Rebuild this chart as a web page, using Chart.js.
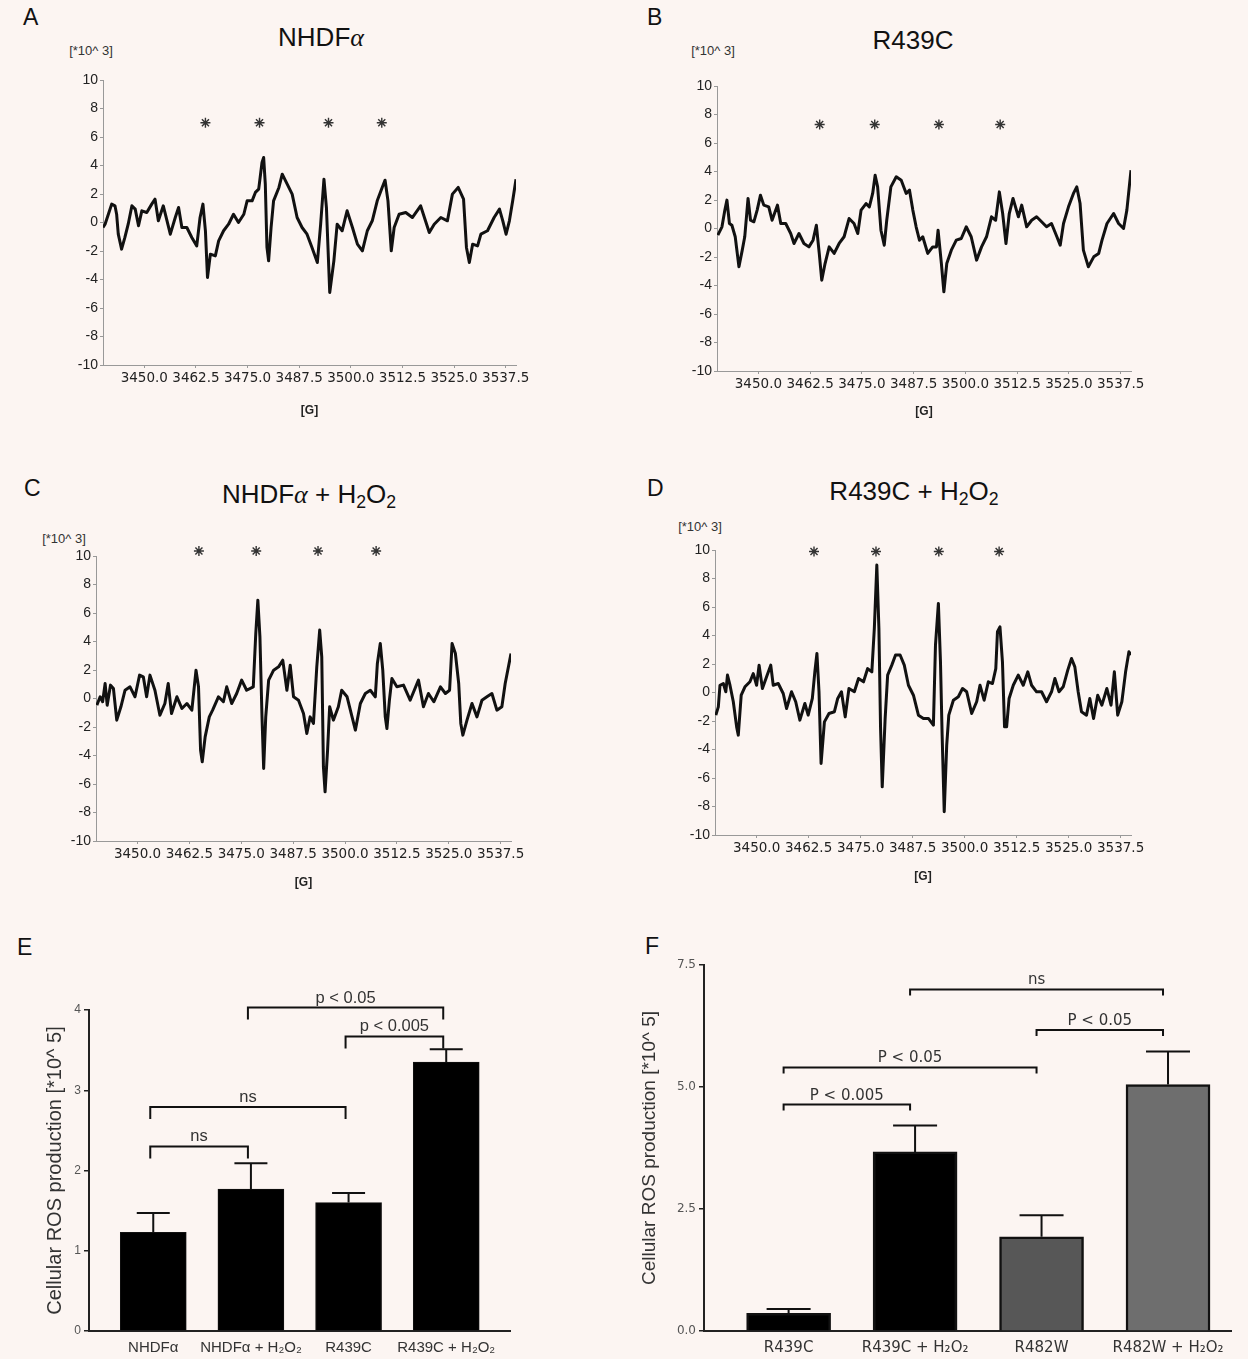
<!DOCTYPE html>
<html>
<head>
<meta charset="utf-8">
<script src="https://cdn.jsdelivr.net/npm/chart.js@4.4.0/dist/chart.umd.min.js"></script>
<style>
  html, body { margin: 0; padding: 0; }
  body { width: 1248px; height: 1359px; background: #fcf5f2; position: relative; overflow: hidden;
         font-family: "Liberation Sans", Arial, sans-serif; color: #111; }
  canvas { position: absolute; }
  .t { position: absolute; line-height: 1; white-space: nowrap; }
  .letter { font-size: 23px; }
  .title { font-size: 26px; transform: translateX(-50%); }
  .alpha { font-family: "Liberation Serif", serif; font-style: italic; }
  .unit { font-size: 13px; color: #333; transform: translateX(-50%); }
  sub { font-size: 0.68em; vertical-align: -0.3em; line-height: 0; }
</style>
</head>
<body>
<div class="t letter" style="left:23px;top:6px">A</div>
<div class="t letter" style="left:647px;top:6px">B</div>
<div class="t letter" style="left:24px;top:477px">C</div>
<div class="t letter" style="left:647px;top:477px">D</div>
<div class="t letter" style="left:17px;top:936px">E</div>
<div class="t letter" style="left:645px;top:935px">F</div>

<div class="t title" style="left:321px;top:24px">NHDF<span class="alpha">α</span></div>
<div class="t title" style="left:913px;top:27px">R439C</div>
<div class="t title" style="left:309px;top:481px">NHDF<span class="alpha">α</span> + H<sub>2</sub>O<sub>2</sub></div>
<div class="t title" style="left:914px;top:478px">R439C + H<sub>2</sub>O<sub>2</sub></div>

<div class="t unit" style="left:91px;top:44px">[*10^ 3]</div>
<div class="t unit" style="left:713px;top:44px">[*10^ 3]</div>
<div class="t unit" style="left:64px;top:532px">[*10^ 3]</div>
<div class="t unit" style="left:700px;top:520px">[*10^ 3]</div>

<canvas id="chartA" width="540" height="420" style="left:0px;top:0px"></canvas>
<canvas id="chartB" width="628" height="420" style="left:620px;top:0px"></canvas>
<canvas id="chartC" width="540" height="421" style="left:0px;top:470px"></canvas>
<canvas id="chartD" width="628" height="420" style="left:620px;top:470px"></canvas>
<canvas id="chartE" width="540" height="429" style="left:0px;top:930px"></canvas>
<canvas id="chartF" width="628" height="429" style="left:620px;top:930px"></canvas>

<script>
// EPR spectra, field in G, signal in units of 10^3
const fieldTicks = [3450.0, 3462.5, 3475.0, 3487.5, 3500.0, 3512.5, 3525.0, 3537.5];

const fieldA = [3440.0,3440.5,3441.3,3442.1,3442.9,3443.3,3443.7,3444.5,3445.3,3446.1,
  3447.0,3447.8,3448.6,3449.4,3450.6,3451.8,3452.6,3453.4,3454.6,3456.3,
  3457.5,3458.3,3459.1,3460.3,3461.5,3462.7,3463.5,3464.2,3464.8,3465.3,
  3466.0,3467.2,3468.0,3469.2,3470.4,3471.6,3472.8,3474.1,3474.9,3476.1,
  3476.9,3477.7,3478.5,3478.9,3479.3,3479.7,3480.1,3480.7,3481.3,3482.6,
  3483.4,3484.6,3485.8,3487.0,3488.2,3489.4,3490.6,3491.9,3492.7,3493.5,
  3494.1,3494.9,3495.9,3496.7,3497.9,3499.1,3500.4,3501.6,3502.8,3504.0,
  3505.2,3506.4,3507.6,3508.3,3509.0,3509.8,3510.5,3511.7,3513.3,3514.9,
  3516.9,3519.0,3520.2,3521.8,3523.4,3524.6,3526.0,3527.3,3528.0,3528.7,
  3529.5,3530.7,3531.5,3533.1,3534.7,3536.0,3536.8,3537.6,3538.4,3539.2,3540.0];
const signalA = [-0.35,-0.12,0.58,1.29,1.17,0.58,-0.82,-1.87,-1.05,-0.12,
  1.17,0.94,-0.23,0.82,0.70,1.29,1.64,0.12,1.17,-0.82,
  0.35,1.05,-0.35,-0.35,-1.05,-1.64,0.35,1.29,-0.58,-3.86,
  -2.22,-2.34,-1.29,-0.58,-0.12,0.58,0.0,0.58,1.52,1.52,
  2.11,2.34,4.21,4.56,2.69,-1.75,-2.69,-0.35,1.52,2.46,
  3.39,2.69,1.99,0.35,-0.35,-0.82,-1.75,-2.81,-0.12,3.04,
  1.05,-4.91,-2.69,-0.12,-0.58,0.82,-0.35,-1.52,-1.99,-0.58,
  0.12,1.52,2.46,2.97,1.52,-1.99,-0.35,0.58,0.70,0.35,
  1.17,-0.70,-0.12,0.35,0.12,1.99,2.46,1.64,-1.75,-2.81,
  -1.52,-1.64,-0.82,-0.58,0.35,0.94,0.12,-0.82,0.12,1.52,3.04];

const fieldB = [3440.2,3441.2,3441.9,3442.4,3443.0,3443.6,3444.4,3445.3,3446.1,3446.7,
  3447.5,3448.1,3448.9,3449.7,3450.5,3451.3,3452.5,3453.3,3454.6,3455.4,
  3456.6,3457.8,3458.6,3459.8,3461.0,3462.2,3463.2,3464.0,3464.7,3465.3,
  3466.1,3467.1,3468.3,3469.5,3470.7,3471.9,3473.1,3474.0,3474.8,3476.0,
  3476.8,3477.6,3478.2,3478.8,3479.6,3480.4,3481.0,3482.0,3483.3,3484.5,
  3485.7,3486.5,3487.3,3488.1,3488.9,3489.7,3490.9,3492.1,3493.0,3493.4,
  3494.2,3494.8,3495.5,3496.6,3497.8,3499.0,3500.2,3501.4,3502.7,3503.9,
  3505.1,3506.3,3507.3,3508.2,3509.0,3509.8,3510.6,3511.5,3512.8,3513.6,
  3514.8,3516.0,3517.2,3518.4,3519.6,3520.8,3522.1,3522.9,3523.7,3524.9,
  3526.1,3526.9,3527.7,3528.5,3529.7,3531.0,3532.2,3533.0,3534.2,3535.8,
  3537.0,3538.2,3539.0,3540.0];
const signalB = [-0.47,0.12,1.29,1.99,0.35,0.23,-0.58,-2.69,-1.52,-0.58,
  2.11,0.58,0.47,1.29,2.34,1.64,1.52,0.58,1.64,0.35,
  0.35,-0.35,-1.05,-0.35,-1.05,-1.29,-0.82,0.23,-1.75,-3.63,
  -2.46,-1.29,-1.75,-1.05,-0.58,0.70,0.35,-0.35,1.29,1.75,
  1.52,2.46,3.74,2.92,-0.12,-1.17,0.58,2.92,3.63,3.39,
  2.46,2.69,1.29,0.12,-0.82,-0.58,-1.75,-1.29,-1.29,-0.12,
  -2.46,-4.44,-2.46,-1.52,-0.82,-0.70,0.12,-0.58,-2.22,-1.29,
  -0.58,0.82,0.58,2.57,1.05,-1.05,1.05,2.11,0.82,1.64,
  0.12,0.58,0.82,0.47,0.12,0.35,-0.58,-1.17,0.35,1.52,
  2.46,2.92,1.75,-1.52,-2.69,-1.99,-1.75,-0.82,0.35,1.05,
  0.35,0.0,1.29,4.09];

const fieldC = [3440.2,3441.0,3441.6,3442.2,3442.7,3443.5,3444.2,3445.0,3446.0,3447.0,
  3448.2,3449.4,3450.5,3451.4,3452.2,3453.0,3454.2,3455.4,3456.6,3457.4,
  3458.2,3459.5,3460.7,3461.9,3463.1,3464.1,3464.7,3465.2,3465.6,3466.3,
  3467.3,3468.1,3469.5,3470.7,3471.5,3472.7,3473.9,3475.1,3476.3,3477.9,
  3478.5,3479.0,3479.5,3480.0,3480.4,3480.9,3481.6,3482.8,3484.0,3485.0,
  3486.0,3486.8,3487.6,3488.8,3490.0,3490.8,3491.6,3492.4,3493.2,3493.9,
  3494.4,3494.8,3495.2,3495.8,3496.3,3497.2,3498.4,3499.2,3500.5,3501.7,
  3502.5,3503.7,3504.9,3506.1,3507.3,3507.8,3508.5,3509.1,3509.7,3510.1,
  3510.7,3511.3,3512.5,3514.1,3515.7,3517.7,3518.9,3520.1,3521.4,3523.0,
  3524.2,3525.2,3525.8,3526.6,3527.4,3527.9,3528.4,3529.4,3530.6,3531.8,
  3533.0,3534.2,3535.4,3536.6,3537.8,3538.6,3540.0];
const signalC = [-0.47,0.12,-0.23,1.05,-0.47,0.94,0.70,-1.52,-0.58,0.58,
  0.82,0.12,1.64,1.52,0.12,1.64,0.58,-1.17,-0.35,1.05,
  -1.05,0.12,-0.70,-0.35,-0.82,1.99,0.82,-3.63,-4.44,-2.69,
  -1.29,-0.82,0.12,-0.23,0.82,-0.35,0.35,1.29,0.58,0.82,
  4.56,6.90,4.33,-1.29,-4.91,-1.29,1.29,1.99,2.22,2.69,
  0.58,2.34,0.12,-0.12,-1.05,-2.46,-1.29,-1.75,2.22,4.80,
  2.92,-4.80,-6.55,-3.63,-0.58,-1.52,-0.58,0.58,0.12,-1.29,
  -2.22,-0.35,0.35,0.58,0.12,2.46,3.86,1.99,-1.29,-2.11,
  -0.12,1.40,0.82,0.94,-0.12,1.29,-0.58,0.35,-0.23,0.82,
  0.35,0.58,3.86,3.16,1.05,-1.75,-2.57,-1.52,-0.35,-1.29,
  -0.12,0.12,0.35,-0.82,-0.58,1.05,3.16];

const fieldD = [3440.2,3440.8,3441.2,3442.0,3442.6,3443.0,3443.6,3444.4,3445.2,3445.6,
  3446.3,3447.2,3448.4,3449.2,3450.0,3450.6,3451.4,3452.4,3453.4,3454.0,
  3455.2,3456.4,3457.2,3458.4,3459.4,3460.4,3461.6,3462.4,3463.4,3464.0,
  3464.5,3465.0,3465.5,3466.3,3467.4,3468.7,3469.5,3470.4,3471.3,3472.2,
  3473.5,3474.5,3475.7,3476.7,3477.7,3478.3,3478.9,3479.4,3479.8,3480.2,
  3480.9,3481.5,3482.5,3483.4,3484.5,3485.5,3486.5,3487.7,3488.9,3490.1,
  3491.3,3492.5,3493.0,3493.7,3494.2,3494.6,3495.1,3495.7,3496.2,3497.3,
  3498.5,3499.5,3500.5,3501.7,3502.9,3503.7,3504.7,3505.7,3506.7,3507.5,
  3507.9,3508.5,3509.1,3509.6,3510.1,3510.7,3511.7,3512.9,3514.1,3515.2,
  3516.1,3517.3,3518.5,3519.7,3520.9,3521.7,3522.7,3523.7,3524.8,3525.7,
  3526.5,3527.3,3528.1,3529.3,3530.1,3531.0,3532.0,3533.0,3534.2,3535.2,
  3536.0,3536.8,3537.8,3538.7,3539.5,3540.0];
const signalD = [-1.59,-1.01,0.51,0.63,0.05,1.22,0.51,-0.65,-2.41,-2.99,
  -0.19,0.40,0.75,1.33,0.51,1.92,0.28,1.10,1.92,0.51,
  0.63,-0.07,-1.12,0.05,-0.65,-1.94,-0.77,-1.59,-0.42,1.45,
  2.74,0.05,-4.98,-2.06,-1.47,-1.35,-0.42,0.05,-1.71,0.28,
  0.05,0.98,0.75,1.68,1.45,4.49,8.94,4.49,-2.53,-6.62,
  -1.82,1.22,1.92,2.63,2.63,1.92,0.51,-0.19,-1.59,-1.82,
  -1.82,-2.29,3.33,6.25,2.15,-2.99,-8.37,-3.69,-1.59,-0.54,
  -0.30,0.28,0.05,-1.47,-0.65,0.51,-0.54,0.75,0.63,1.68,
  4.26,4.61,2.15,-2.41,-2.41,-0.42,0.51,1.22,0.51,1.45,
  0.51,0.05,0.05,-0.65,0.05,0.98,0.05,0.40,1.57,2.39,
  1.80,0.05,-1.35,-1.59,-0.42,-1.82,-0.19,-0.89,0.28,-0.89,
  1.45,-1.59,-0.65,1.45,2.86,2.63];

// asterisk marks over the four lines
const starFieldA = [3464.8, 3477.9, 3494.6, 3507.5], starLevelA = 7.0;
const starFieldB = [3464.8, 3478.1, 3493.6, 3508.4], starLevelB = 7.3;
const starFieldC = [3464.8, 3478.6, 3493.5, 3507.5], starLevelC = 10.35;
const starFieldD = [3463.8, 3478.7, 3493.8, 3508.3], starLevelD = 9.9;

// ROS bar charts (units 10^5)
const groupsE = ['NHDFα', 'NHDFα + H₂O₂', 'R439C', 'R439C + H₂O₂'];
const rosE = [1.23, 1.77, 1.60, 3.35];
const errE = [0.24, 0.32, 0.12, 0.16];
const bracketsE = [[0, 1, 2.30, 'ns'], [0, 2, 2.79, 'ns'], [2, 3, 3.67, 'p < 0.005'], [1, 3, 4.03, 'p < 0.05']];

const groupsF = ['R439C', 'R439C + H₂O₂', 'R482W', 'R482W + H₂O₂'];
const rosF = [0.36, 3.67, 1.93, 5.05];
const errF = [0.09, 0.54, 0.44, 0.68];
const bracketsF = [[0, 1, 4.64, 'P < 0.005'], [0, 2, 5.40, 'P < 0.05'], [2, 3, 6.17, 'P < 0.05'], [1, 3, 7.0, 'ns']];

const FONT = '"Liberation Sans", Arial, sans-serif';
const WIDE = '"DejaVu Sans", sans-serif';
Chart.defaults.font.family = FONT;

function spectrum(id, field, signal, starField, starLevel, g) {
  new Chart(document.getElementById(id), {
    type: 'scatter',
    data: {
      datasets: [
        { data: field.map((x, i) => ({ x: x, y: signal[i] })), showLine: true, borderColor: '#111',
          borderWidth: 3, pointRadius: 0, tension: 0, borderJoinStyle: 'round' },
        { data: starField.map(x => ({ x: x, y: starLevel })), pointStyle: 'star', pointRadius: 5,
          hoverRadius: 5, borderColor: '#333', borderWidth: 1.4, clip: false }
      ]
    },
    options: {
      responsive: false, animation: false, events: [],
      layout: { padding: { left: 0, top: g.top, right: g.right, bottom: g.bottom } },
      plugins: { legend: { display: false }, tooltip: { enabled: false } },
      scales: {
        x: {
          type: 'linear', min: 3440, max: 3540,
          afterBuildTicks: s => { s.ticks = fieldTicks.map(v => ({ value: v })); },
          afterFit: s => { s.height = g.xh; },
          ticks: { autoSkip: false, maxRotation: 0, font: { size: 13.5, family: WIDE }, color: '#222', padding: 2,
                   callback: v => Number(v).toFixed(1) },
          grid: { drawOnChartArea: false, tickLength: 3, color: '#999' },
          border: { color: '#999' },
          title: { display: true, text: '[G]', font: { size: 12, weight: 'bold' }, color: '#222', padding: 0 }
        },
        y: {
          min: -10, max: 10,
          afterFit: s => { s.width = g.yw; },
          ticks: { stepSize: 2, font: { size: 14 }, color: '#222', padding: 2 },
          grid: { drawOnChartArea: false, tickLength: 3, color: '#999' },
          border: { color: '#999' }
        }
      }
    }
  });
}

spectrum('chartA', fieldA, signalA, starFieldA, starLevelA, { yw: 103, top: 80, right: 24, xh: 53, bottom: 2 });
spectrum('chartB', fieldB, signalB, starFieldB, starLevelB, { yw: 97, top: 86, right: 117, xh: 48, bottom: 1 });
spectrum('chartC', fieldC, signalC, starFieldC, starLevelC, { yw: 96, top: 86, right: 29, xh: 49, bottom: 1 });
spectrum('chartD', fieldD, signalD, starFieldD, starLevelD, { yw: 95, top: 80, right: 117, xh: 49, bottom: 6 });

// error bars and significance brackets
const statsPlugin = {
  id: 'stats',
  afterDatasetsDraw(chart, args, o) {
    const ctx = chart.ctx, x = chart.scales.x, y = chart.scales.y;
    ctx.save();
    ctx.strokeStyle = '#111';
    ctx.lineWidth = 2;
    o.values.forEach((v, i) => {
      const cx = x.getPixelForValue(i), y0 = y.getPixelForValue(v), y1 = y.getPixelForValue(v + o.errors[i]);
      ctx.beginPath();
      ctx.moveTo(cx, y0); ctx.lineTo(cx, y1);
      ctx.moveTo(cx - o.cap / 2, y1); ctx.lineTo(cx + o.cap / 2, y1);
      ctx.stroke();
    });
    ctx.fillStyle = '#333';
    ctx.font = o.textSize + 'px ' + o.textFont;
    ctx.textAlign = 'center';
    ctx.textBaseline = 'alphabetic';
    o.brackets.forEach(b => {
      const xa = x.getPixelForValue(b[0]) - o.shift, xb = x.getPixelForValue(b[1]) - o.shift, yl = y.getPixelForValue(b[2]);
      ctx.beginPath();
      ctx.moveTo(xa, yl + o.leg); ctx.lineTo(xa, yl); ctx.lineTo(xb, yl); ctx.lineTo(xb, yl + o.leg);
      ctx.stroke();
      ctx.fillText(b[3], (xa + xb) / 2, yl - 5);
    });
    ctx.restore();
  }
};

function rosChart(id, groups, values, errors, brackets, colors, g) {
  new Chart(document.getElementById(id), {
    type: 'bar',
    data: {
      datasets: [{
        data: values.map((v, i) => ({ x: i, y: v })),
        backgroundColor: colors, borderColor: '#111', borderWidth: g.bw, barThickness: g.barW
      }]
    },
    options: {
      responsive: false, animation: false, events: [],
      layout: { padding: { left: 0, top: g.top, right: g.right, bottom: 0 } },
      plugins: {
        legend: { display: false }, tooltip: { enabled: false },
        stats: { values: values, errors: errors, brackets: brackets, cap: g.cap, leg: g.leg, shift: g.shift,
                 textSize: g.textSize, textFont: g.textFont }
      },
      scales: {
        x: {
          type: 'linear', min: g.xmin, max: g.xmax, offset: false,
          afterBuildTicks: s => { s.ticks = groups.map((n, i) => ({ value: i })); },
          afterFit: s => { s.height = g.xh; },
          ticks: { autoSkip: false, maxRotation: 0, font: { size: g.labelSize, family: g.labelFont }, color: '#333',
                   padding: 8, callback: v => groups[v] },
          grid: { display: false, drawTicks: false },
          border: { color: '#222', width: 2 }
        },
        y: {
          min: 0, max: g.ymax,
          afterFit: s => { s.width = g.yw; },
          ticks: { stepSize: g.step, font: { size: 12, family: g.labelFont }, color: '#555', padding: 3,
                   callback: v => Number(v).toFixed(g.decimals) },
          grid: { drawOnChartArea: false, tickLength: 5, color: '#222', lineWidth: 1.5 },
          border: { color: '#222', width: 2 },
          title: { display: true, text: 'Cellular ROS production [*10^ 5]', font: { size: g.titleSize },
                   color: '#333', padding: { top: g.titlePad, bottom: 0 } }
        }
      }
    },
    plugins: [statsPlugin]
  });
}

rosChart('chartE', groupsE, rosE, errE, bracketsE, ['#000', '#000', '#000', '#000'],
  { yw: 89, top: 80, right: 30, xh: 28, xmin: -0.658, xmax: 3.653, ymax: 4, step: 1, decimals: 0,
    barW: 66, bw: 1, cap: 33, leg: 12, shift: 3, textSize: 16.5, textFont: FONT,
    labelSize: 15, labelFont: FONT, titleSize: 20, titlePad: 43 });
rosChart('chartF', groupsF, rosF, errF, bracketsF, ['#000', '#000', '#575757', '#6e6e6e'],
  { yw: 84, top: 35, right: 17, xh: 28, xmin: -0.669, xmax: 3.498, ymax: 7.5, step: 2.5, decimals: 1,
    barW: 84, bw: 2.5, cap: 44, leg: 6, shift: 5, textSize: 15, textFont: WIDE,
    labelSize: 15, labelFont: WIDE, titleSize: 19, titlePad: 18 });
</script>
</body>
</html>
